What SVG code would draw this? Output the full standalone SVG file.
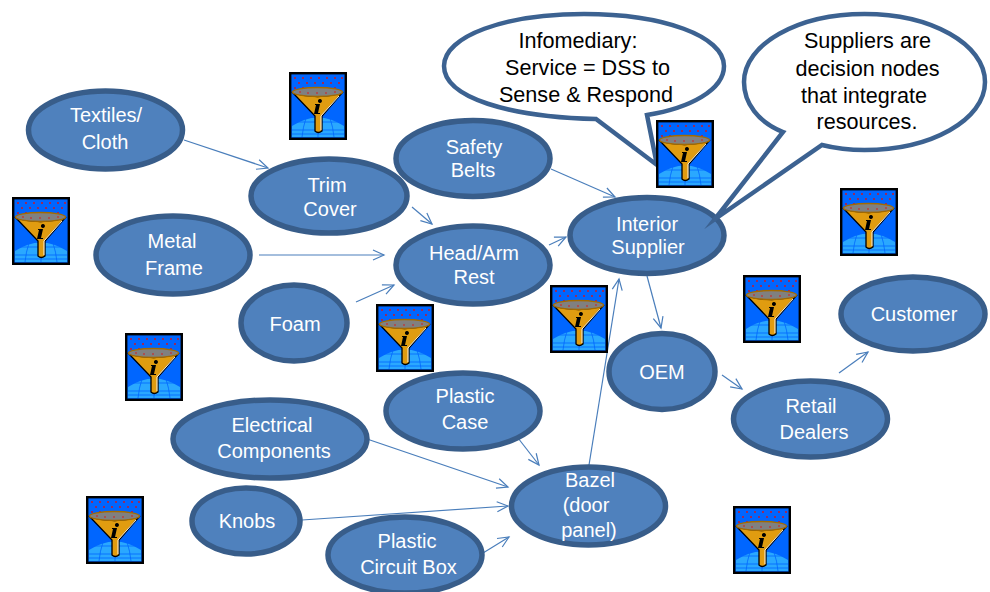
<svg xmlns="http://www.w3.org/2000/svg" width="990" height="592" viewBox="0 0 990 592">
<style>
.n{fill:#4f81bd;stroke:#385d8a;stroke-width:5.5}
.c{fill:#fff;stroke:#3c6291;stroke-width:4.5;stroke-linejoin:miter;stroke-miterlimit:12}
.t{font-family:"Liberation Sans",Arial,sans-serif;font-size:20px;fill:#fff;text-anchor:middle}
.k{font-family:"Liberation Sans",Arial,sans-serif;font-size:21.600px;fill:#000;text-anchor:middle}
.l{fill:none;stroke:#4a7ebb;stroke-width:1.2}
</style>
<defs>
<symbol id="ic" viewBox="0 0 58 68" width="58" height="68">
<rect x="1.200" y="1.200" width="55.600" height="65.600" fill="#0066ff" stroke="#000" stroke-width="2.400"/>
<path d="M3 65V54Q29 37 55 54V65Z" fill="#2aa8ff"/>
<g fill="none" stroke="#0066ff" stroke-width=".8"><path d="M3 58H55M3 62H55M8 50H50M17 46Q14 55 13 65M41 46Q44 55 45 65M29 44V65"/></g>
<g fill="#e01010"><circle cx="6" cy="6" r=".9"/><circle cx="14" cy="6" r=".9"/><circle cx="22" cy="6" r=".9"/><circle cx="30" cy="6" r=".9"/><circle cx="38" cy="6" r=".9"/><circle cx="46" cy="6" r=".9"/><circle cx="53" cy="6" r=".9"/><circle cx="10" cy="11" r=".9"/><circle cx="18" cy="11" r=".9"/><circle cx="26" cy="11" r=".9"/><circle cx="34" cy="11" r=".9"/><circle cx="42" cy="11" r=".9"/><circle cx="50" cy="11" r=".9"/><circle cx="6" cy="16" r=".9"/><circle cx="14" cy="16" r=".9"/><circle cx="22" cy="16" r=".9"/><circle cx="30" cy="16" r=".9"/><circle cx="38" cy="16" r=".9"/><circle cx="46" cy="16" r=".9"/></g>
<path d="M4 21Q29 28 53 21L33 44V59Q29 62 26 59V44Z" fill="#e09c10" stroke="#000" stroke-width="1.300"/>
<path d="M50 24L32 44V58" fill="none" stroke="#fff" stroke-width=".9"/>
<ellipse cx="28.500" cy="20" rx="25" ry="4.500" fill="#808080" stroke="#a36a00" stroke-width="1.400"/>
<g fill="#e01010"><circle cx="11" cy="20" r=".8"/><circle cx="19" cy="21" r=".8"/><circle cx="28" cy="21" r=".8"/><circle cx="37" cy="21" r=".8"/><circle cx="46" cy="20" r=".8"/></g>
<path d="M31 27a2 2 0 1 1-.1 0ZM26 32H31L29 41H31V42H25L27 33H26Z" fill="#000"/>
</symbol>
<marker id="a" markerWidth="14" markerHeight="14" refX="12" refY="6" orient="auto" markerUnits="userSpaceOnUse"><path d="M1 1L12 6L1 11" fill="none" stroke="#4a7ebb" stroke-width="1.200"/></marker>
</defs>
<g id="connectors">
<path class="l" marker-end="url(#a)" d="M184 140L268 168"/>
<path class="l" marker-end="url(#a)" d="M412 207L432 224"/>
<path class="l" marker-end="url(#a)" d="M551 169L615 197"/>
<path class="l" marker-end="url(#a)" d="M259 255H384"/>
<path class="l" marker-end="url(#a)" d="M356 302L394 285"/>
<path class="l" marker-end="url(#a)" d="M549 245L566 237"/>
<path class="l" marker-end="url(#a)" d="M647 276L661 328"/>
<path class="l" marker-end="url(#a)" d="M722 375L742 389"/>
<path class="l" marker-end="url(#a)" d="M839 373L868 352"/>
<path class="l" marker-end="url(#a)" d="M589 465L619 279"/>
<path class="l" marker-end="url(#a)" d="M518 438L539 465"/>
<path class="l" marker-end="url(#a)" d="M367 439L508 487"/>
<path class="l" marker-end="url(#a)" d="M302 520L508 506"/>
<path class="l" marker-end="url(#a)" d="M483 553L509 537"/>
</g>
<g id="n-textiles"><ellipse class="n" cx="105.500" cy="130" rx="77" ry="39"/><text class="t" x="106" y="122">Textiles/</text><text class="t" x="105" y="149">Cloth</text></g>
<g id="n-trim"><ellipse class="n" cx="329" cy="196" rx="78" ry="37"/><text class="t" x="327" y="192">Trim</text><text class="t" x="330" y="216">Cover</text></g>
<g id="n-safety"><ellipse class="n" cx="473" cy="158.500" rx="77" ry="38"/><text class="t" x="474" y="154">Safety</text><text class="t" x="473" y="177">Belts</text></g>
<g id="n-metal"><ellipse class="n" cx="173" cy="255" rx="77" ry="39"/><text class="t" x="172" y="248">Metal</text><text class="t" x="174" y="275">Frame</text></g>
<g id="n-head"><ellipse class="n" cx="473" cy="265" rx="77" ry="39"/><text class="t" x="474" y="260">Head/Arm</text><text class="t" x="474" y="284">Rest</text></g>
<g id="n-interior"><ellipse class="n" cx="647" cy="235.500" rx="77" ry="38"/><text class="t" x="647" y="231">Interior</text><text class="t" x="648" y="254">Supplier</text></g>
<g id="n-foam"><ellipse class="n" cx="294" cy="323" rx="53" ry="38"/><text class="t" x="295" y="331">Foam</text></g>
<g id="n-oem"><ellipse class="n" cx="662" cy="371.500" rx="53" ry="38"/><text class="t" x="662" y="379">OEM</text></g>
<g id="n-customer"><ellipse class="n" cx="913" cy="314" rx="72" ry="37"/><text class="t" x="914" y="321">Customer</text></g>
<g id="n-retail"><ellipse class="n" cx="810.500" cy="419" rx="77" ry="38"/><text class="t" x="811" y="413">Retail</text><text class="t" x="814" y="439">Dealers</text></g>
<g id="n-case"><ellipse class="n" cx="463" cy="411" rx="77" ry="38"/><text class="t" x="465" y="403">Plastic</text><text class="t" x="465" y="429">Case</text></g>
<g id="n-electrical"><ellipse class="n" cx="270" cy="439" rx="97" ry="39"/><text class="t" x="272" y="432">Electrical</text><text class="t" x="274" y="458">Components</text></g>
<g id="n-knobs"><ellipse class="n" cx="246" cy="521" rx="54" ry="33"/><text class="t" x="247" y="528">Knobs</text></g>
<g id="n-circuit"><ellipse class="n" cx="405" cy="555" rx="77" ry="38"/><text class="t" x="407" y="548">Plastic</text><text class="t" x="408.500" y="574">Circuit Box</text></g>
<g id="n-bazel"><ellipse class="n" cx="588.500" cy="506" rx="77" ry="39"/><text class="t" x="590" y="487">Bazel</text><text class="t" x="586" y="512">(door</text><text class="t" x="589" y="537">panel)</text></g>
<g id="callout-infomediary"><path class="c" d="M596 119C510 117 444 98 444 66C444 36 505 14 584 14C663 14 724 36 724 66C724 90 690 108 647 115L657 165Z"/><text class="k" x="578" y="48">Infomediary:</text><text class="k" x="587.500" y="75">Service = DSS to</text><text class="k" x="586" y="101.500">Sense &amp; Respond</text></g>
<g id="callout-suppliers"><path class="c" d="M715 219L783 132C758 122 744 103 744 82C744 44 798 14 864.500 14C931 14 985 44 985 82C985 120 931 150 864.500 150C848 150 834 148 822 145Z"/><text class="k" x="867.500" y="48">Suppliers are</text><text class="k" x="867.500" y="76">decision nodes</text><text class="k" x="864" y="102.500">that integrate</text><text class="k" x="867" y="129">resources.</text></g>
<g id="icons">
<use href="#ic" x="289" y="72"/><use href="#ic" x="12" y="197"/><use href="#ic" x="656" y="120"/><use href="#ic" x="840" y="188"/><use href="#ic" x="743" y="275"/><use href="#ic" x="550" y="285"/><use href="#ic" x="376" y="304"/><use href="#ic" x="125" y="333"/><use href="#ic" x="86" y="496"/><use href="#ic" x="733" y="506"/>
</g>
</svg>
